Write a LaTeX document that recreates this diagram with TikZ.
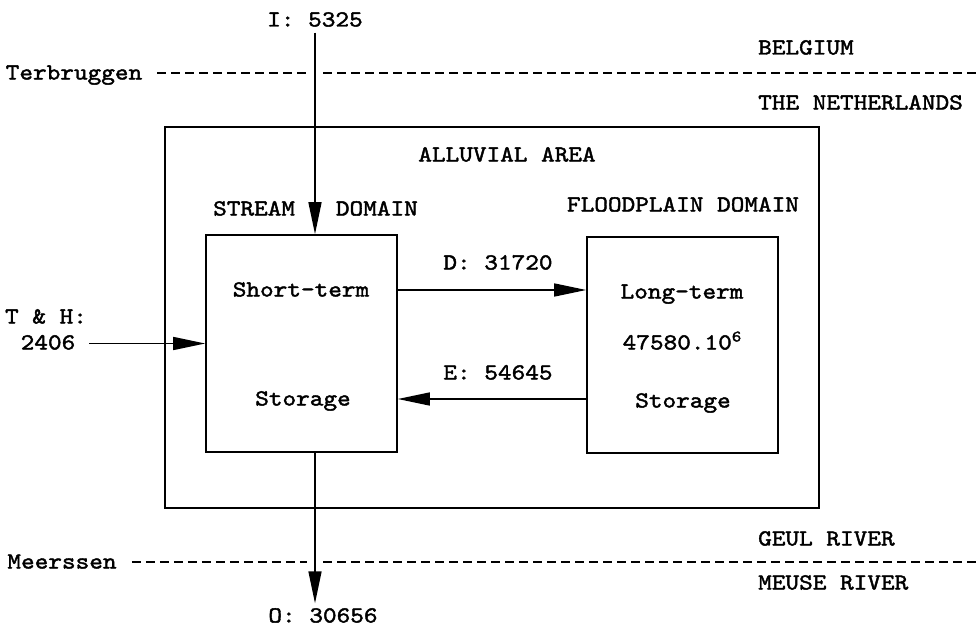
\documentclass[tikz,border=0pt]{standalone}
\usepackage{fontspec}
\newfontfamily\typewriter{lmmono10-regular.otf}[FakeStretch=1.13,FakeBold=1.8]
\newcommand{\gtext}{\typewriter\fontsize{23}{28}\selectfont}
\usetikzlibrary{arrows.meta,calc,positioning}
\tikzset{
  lbl/.style={font=\gtext,inner sep=2pt,text height=15pt,text depth=4pt},
  storebox/.style={draw,line width=1.6pt,minimum width=191pt,minimum height=217pt,inner sep=0pt},
  areabox/.style={draw,line width=1.6pt,minimum width=654pt,minimum height=381pt,inner sep=0pt},
  flowarrow/.style={draw,line width=1.5pt,-{Triangle[length=32pt,width=13pt]}},
  borderline/.style={draw,line width=1.3pt,dash pattern=on 9pt off 5pt},
}
\begin{document}
\begin{tikzpicture}[x=1pt,y=-1pt]
  \path[use as bounding box] (0,0) rectangle (979,626);
  % alluvial area and its two domains
  \node[areabox] (area) at (492,317.5) {};
  \node[lbl] (arealbl) at (507,156) {ALLUVIAL AREA};
  \node[lbl] (stream) at (315.5,210) {STREAM\ \ \ DOMAIN};
  \node[lbl] (flood) at (683,206) {FLOODPLAIN DOMAIN};
  \node[storebox] (short) at (301.5,343.5) {};
  \node[storebox,minimum height=216pt] (long) at (682.5,345) {};
  \node[lbl] (shortup) at (301,291) {Short-term};
  \node[lbl] (shortlow) at (303,400) {Storage};
  \node[lbl] (longup) at (682,293) {Long-term};
  \node[lbl] (longval) at (682,344) {47580.10\raisebox{8pt}{\fontsize{16}{16}\selectfont 6}};
  \node[lbl] (longlow) at (683,402) {Storage};
  % fluxes
  \node[lbl] (in) at (315,21) {I: 5325};
  \node[lbl] (thlbl) at (46,318) {T \& H:};
  \node[lbl] (th) at (48,344) {2406};
  \node[lbl] (dlbl) at (498,264) {D: 31720};
  \node[lbl] (elbl) at (498,374) {E: 54645};
  \node[lbl,text depth=0pt,inner sep=1pt] (out) at (323,615) {O: 30656};
  \draw[flowarrow] (in.south) -- (in.south |- short.north);
  \draw[flowarrow] ([xshift=12pt]th.east |- short.west) -- (short.west);
  \draw[flowarrow] ([yshift=53.5pt]short.east) -- ([yshift=53.5pt]short.east -| long.west);
  \draw[flowarrow] ([yshift=-55.5pt]short.east -| long.west) -- ([yshift=-55.5pt]short.east);
  \draw[flowarrow] (short.south -| in.south) -- ($(in.south |- out.north)+(0,-3)$);
  % borders
  \node[lbl] (terb) at (74,74) {Terbruggen};
  \node[lbl] (meer) at (62,563) {Meerssen};
  \coordinate (terbend) at (979,73);
  \coordinate (meerend) at (979,562);
  \draw[borderline] ([xshift=13pt]terb.east |- terbend) -- ($(in.south |- terbend)+(-8,0)$);
  \draw[borderline] ($(in.south |- terbend)+(8,0)$) -- (terbend);
  \draw[borderline] ([xshift=13pt]meer.east |- meerend) -- ($(in.south |- meerend)+(-8,0)$);
  \draw[borderline] ($(in.south |- meerend)+(8,0)$) -- (meerend);
  \foreach \nm/\y/\txt in {bel/49/BELGIUM,ned/104/THE NETHERLANDS,geul/540/GEUL RIVER,meuse/584/MEUSE RIVER}
    {\node[lbl,anchor=west] (\nm) at (756,\y) {\txt};}
\end{tikzpicture}
\end{document}
